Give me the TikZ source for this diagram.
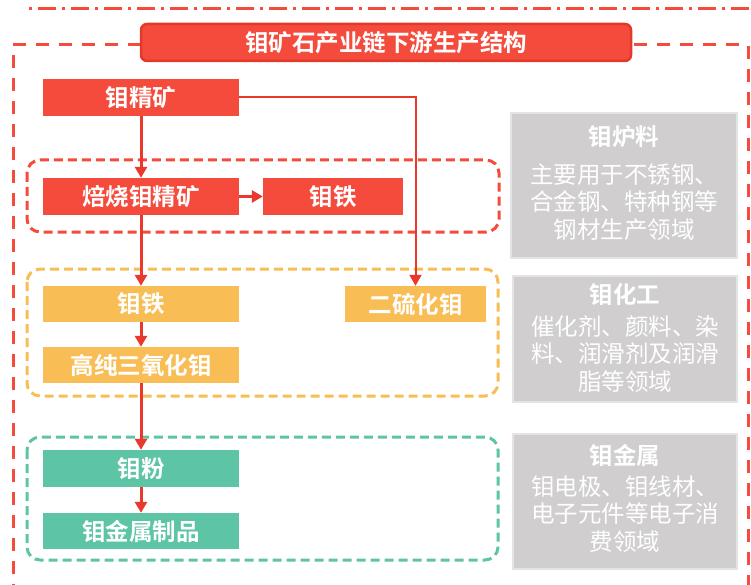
\documentclass[tikz,border=0pt]{standalone}
\usepackage{fontspec}
\setmainfont{Noto Sans CJK SC}[BoldFont={Noto Sans CJK SC Bold}]
\usetikzlibrary{arrows.meta,calc}
\definecolor{cred}{HTML}{F44B3C}
\definecolor{credd}{HTML}{E3392B}
\definecolor{carrow}{HTML}{E8392C}
\definecolor{corange}{HTML}{F8BE55}
\definecolor{cteal}{HTML}{5EC4A6}
\definecolor{cgray}{HTML}{D0CECE}
\definecolor{cgrayb}{HTML}{E4E4E4}
\tikzset{
  boxtext/.style={font={\fontsize{23.5}{27}\selectfont\bfseries}, text=white},
  prodbox/.style={boxtext, rectangle, inner sep=0pt, minimum height=37pt},
  redbox/.style={prodbox, fill=cred},
  orangebox/.style={prodbox, fill=corange},
  tealbox/.style={prodbox, fill=cteal},
  flow/.style={draw=carrow, line width=3pt, -{Triangle[length=11pt,width=12pt]}},
  flowthin/.style={draw=carrow, line width=2pt, -{Triangle[length=11pt,width=12pt]}},
  groupbox/.style={line width=3pt, dash pattern=on 9pt off 5pt, rounded corners=13pt},
  outerbox/.style={draw=cred, line width=3pt, dash pattern=on 13pt off 10pt},
  topline/.style={draw=cred, line width=3pt, dash pattern=on 3pt off 6pt on 18pt off 6pt},
  graybox/.style={rectangle, fill=cgray, draw=cgrayb, line width=1.2pt, inner sep=0pt},
  graytitle/.style={font={\fontsize{23.5}{27}\selectfont\bfseries}, text=white},
  graybody/.style={font={\fontsize{23.5}{27.5}\selectfont}, text=white, align=center, inner sep=0pt},
  titlebox/.style={rectangle, rounded corners=6pt, fill=cred, draw=credd, line width=2.5pt,
    font={\fontsize{23.5}{27}\selectfont\bfseries}, text=white, inner sep=0pt}
}
\begin{document}
\begin{tikzpicture}[x=1pt,y=-1pt]
\useasboundingbox (0,0) rectangle (751,585);
% top dash-dot line
\draw[topline] (29,9) -- (751,9);
% outer dashed frame
\draw[outerbox] (13,620) -- (13,45) -- (748,45) -- (748,620);
% title
\node[titlebox, minimum width=490pt, minimum height=37pt] (title) at (386,42.5) {钼矿石产业链下游生产结构};
% group boxes
\draw[groupbox, draw=cred] (27,160) rectangle (499,232);
\draw[groupbox, draw=corange] (27,269) rectangle (498,396);
\draw[groupbox, draw=cteal] (27,437) rectangle (498,560);
% product boxes
\node[redbox, minimum width=196pt] (n1) at (141,97.5) {钼精矿};
\node[redbox, minimum width=196pt] (n2) at (141,196.5) {焙烧钼精矿};
\node[redbox, minimum width=140pt] (n3) at (333,196.5) {钼铁};
\node[orangebox, minimum width=196pt, minimum height=36pt] (n4) at (141,304) {钼铁};
\node[orangebox, minimum width=141pt, minimum height=36pt] (n5) at (415.5,304) {二硫化钼};
\node[orangebox, minimum width=196pt, minimum height=36pt] (n6) at (141,365) {高纯三氧化钼};
\node[tealbox, minimum width=196pt] (n7) at (141,468.5) {钼粉};
\node[tealbox, minimum width=196pt, minimum height=36pt] (n8) at (141,531) {钼金属制品};
% connectors
\draw[flow] (n1.south) -- (n2.north);
\draw[flow] (n2.east) -- (n3.west);
\draw[flowthin] (n1.east) -- (n1.east -| n5.north) -- (n5.north);
\draw[flow] (n2.south) -- (n4.north);
\draw[flow] (n4.south) -- (n6.north);
\draw[flow] (n6.south) -- (n7.north);
\draw[flow] (n7.south) -- (n8.north);
% gray application boxes
\node[graybox, minimum width=226pt, minimum height=145pt] (g1) at (624,185.5) {};
\node[graytitle] (g1t) at (624,137) {钼炉料};
\node[graybody] (g1b) at (624,202) {主要用于不锈钢、\\合金钢、特种钢等\\钢材生产领域};
\node[graybox, minimum width=224pt, minimum height=126pt] (g2) at (625,339) {};
\node[graytitle] (g2t) at (625,295) {钼化工};
\node[graybody] (g2b) at (625,354) {催化剂、颜料、染\\料、润滑剂及润滑\\脂等领域};
\node[graybox, minimum width=224pt, minimum height=135pt] (g3) at (625,501.5) {};
\node[graytitle] (g3t) at (625,455) {钼金属};
\node[graybody] (g3b) at (625,514) {钼电极、钼线材、\\电子元件等电子消\\费领域};
\end{tikzpicture}
\end{document}
